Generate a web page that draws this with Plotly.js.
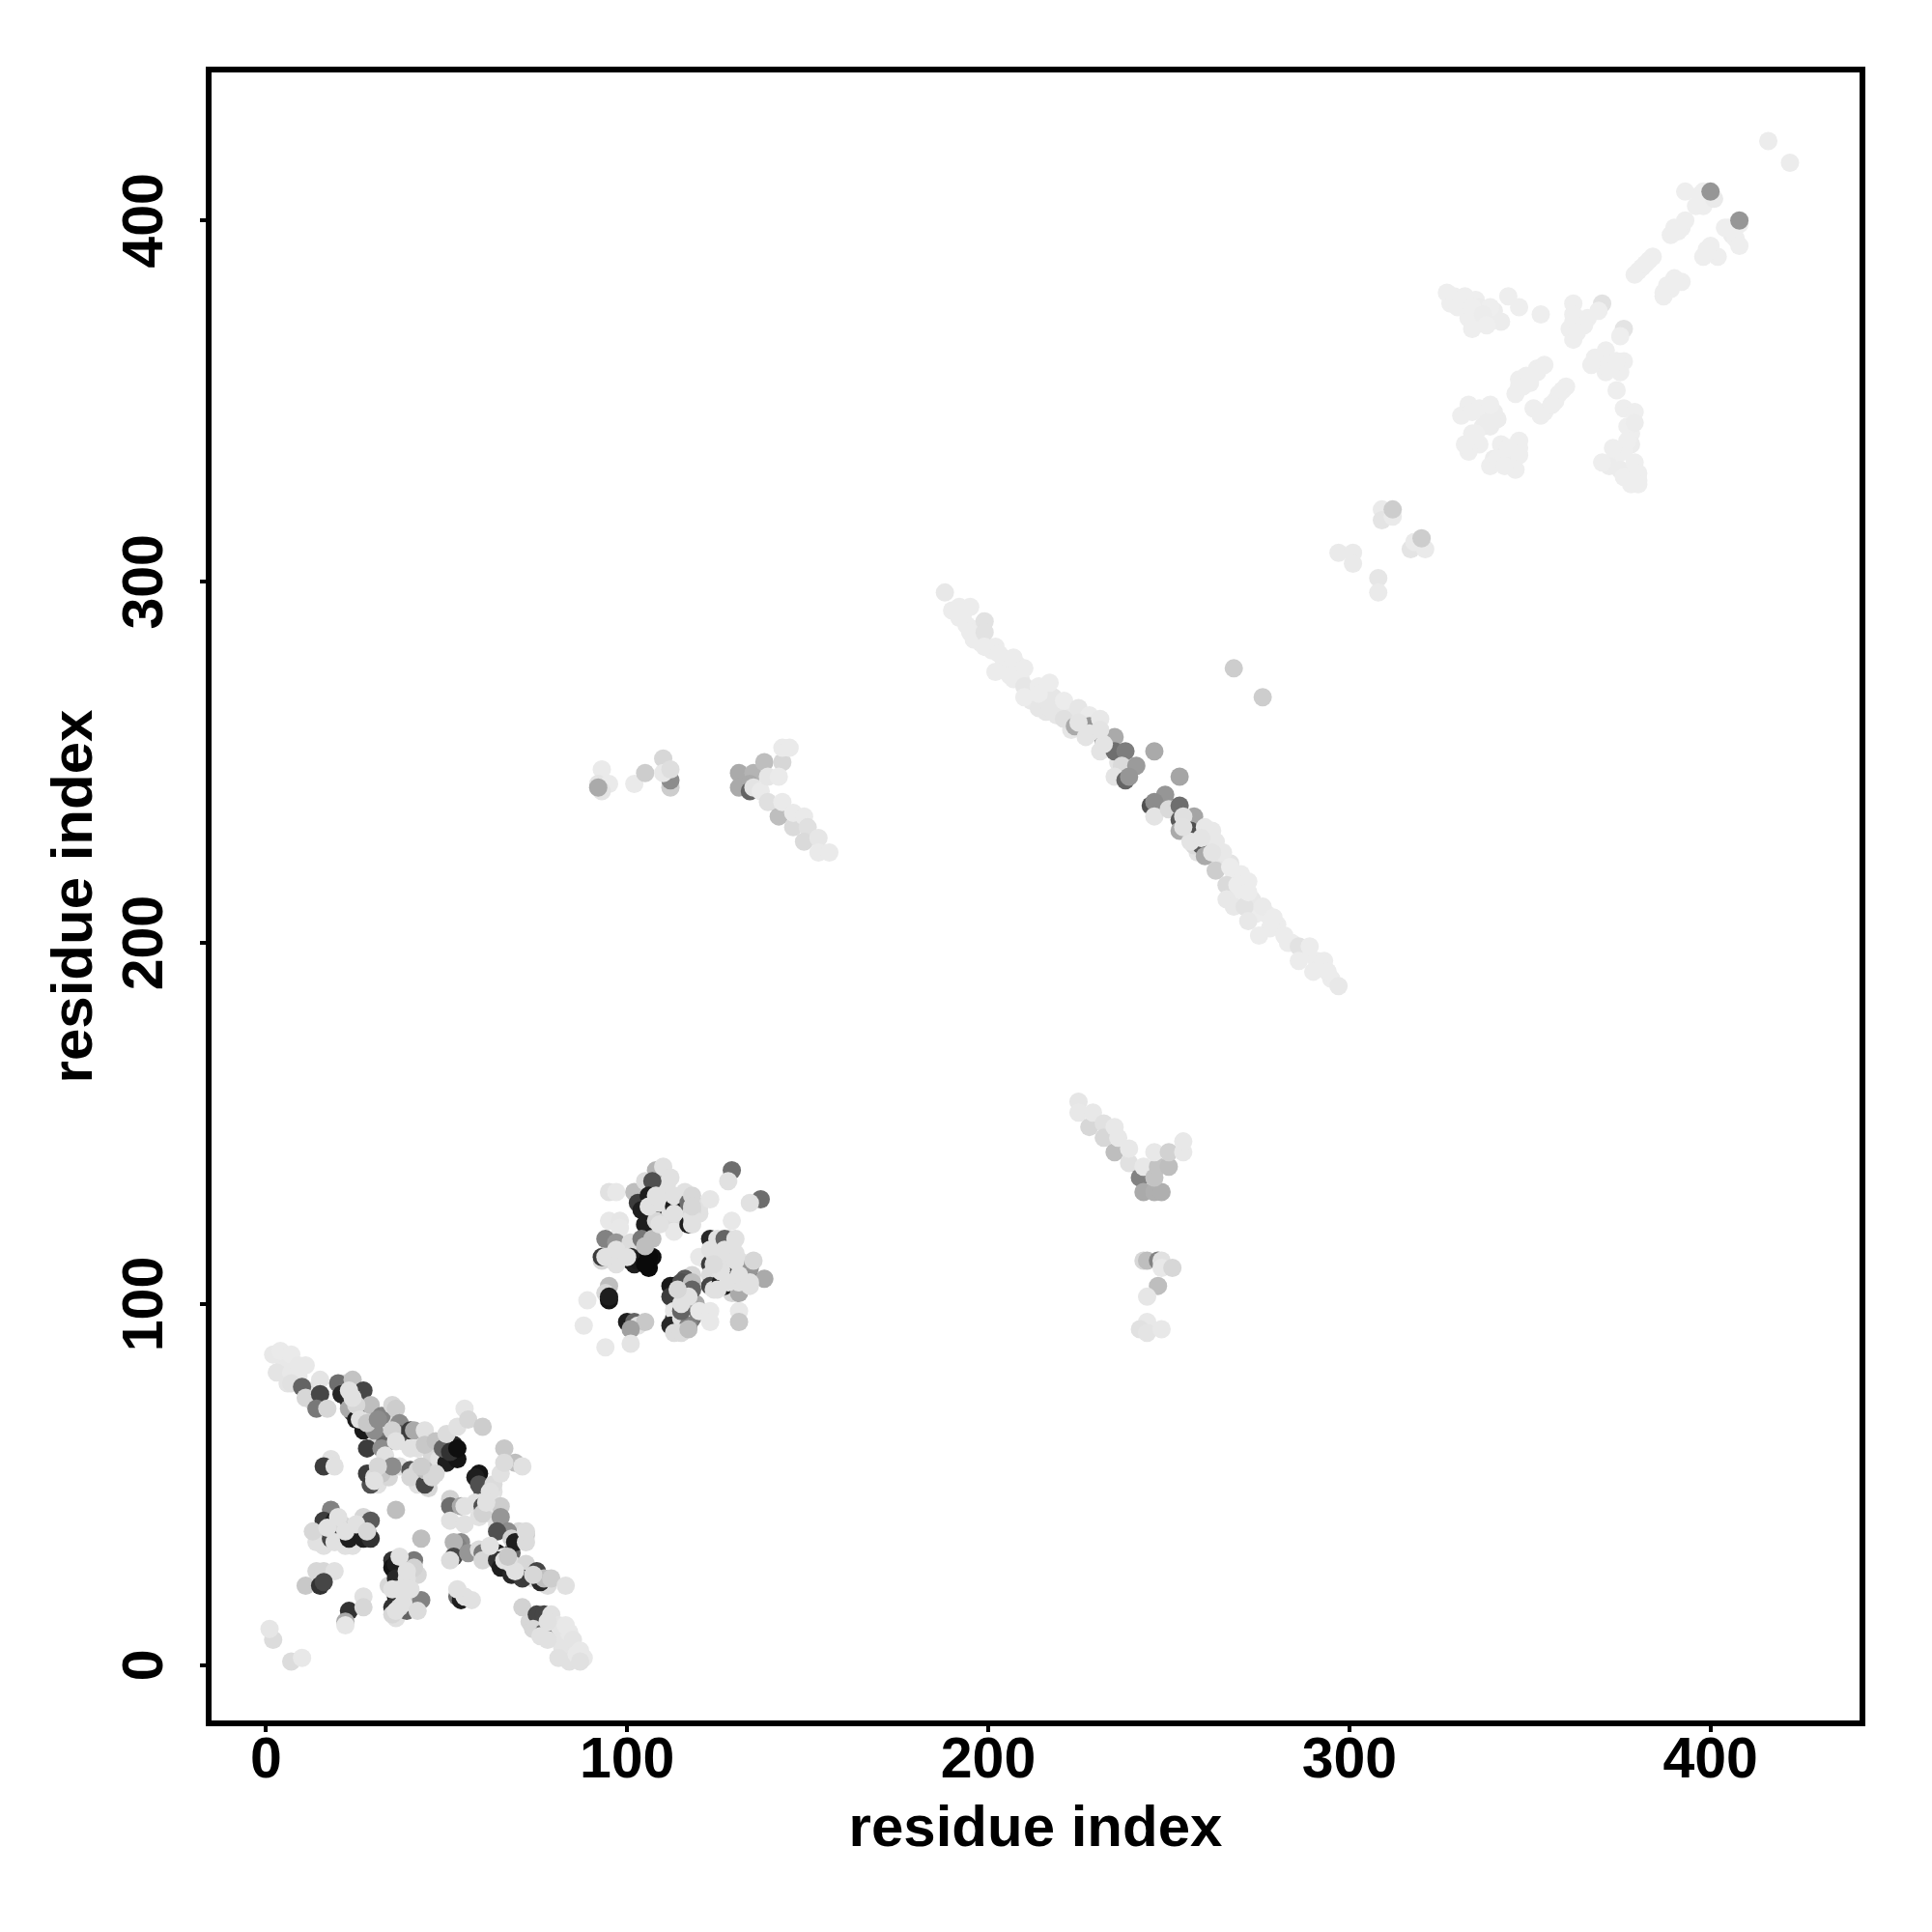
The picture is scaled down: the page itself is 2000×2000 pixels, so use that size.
<!DOCTYPE html>
<html>
<head>
<meta charset="utf-8">
<script src="https://cdn.plot.ly/plotly-3.0.1.min.js"></script>
<style>html,body{margin:0;padding:0;background:#fff}</style>
</head>
<body>
<div id="chart" style="width:2000px;height:2000px"></div>
<script>
// Each contact: x residue, y residue, grey level (0 black - 255 white). Paint order is list order.
const underX = [5,9,6,12,13, 22,24,26,27,29,31,33,34,33,38,42,46,48,52,50,53, 31,34,37,42,45,29,33, 60,61,63,58,59,64,62,70,68,64,66,69,72,74,78, 17,20,22,24,26,14,16,28, 36,38,36,39,34,37,38,42, 73,76,78,80,82,84,84,88];
const underY = [84,80,78,76,73, 78,70,70,73,68,62,62,68,61,62,60,58,57,61,56,57, 50,52,55,50,49,50,56, 48,46,48,45,41,39,42,37,31,31,30,26,25,24,22, 38,36,33,33,38,37,33,37, 25,21,13,15,22,28,26,25, 12,11,11,8,5,9,1,2];
const underG = [232,232,228,225,215, 215,60,30,215,220,215,120,215,100,225,225,215,225,40,30,20, 225,215,225,225,215,80,120, 80,225,225,225,225,225,225,215,100,30,225,30,40,225,220, 225,70,225,225,225,70,225,30, 60,215,225,100,215,30,225,215, 215,90,225,228,228,232,225,232];

const underBX = [104,107,110,109,112,111,115,116,115,120,120,106, 96,95,99,100,103,101,104,107,106, 113,115,115,118,113,116,119,118,116, 122,124,125,129,128,131,132,127,129,133,126];
const underBY = [130,125,130,125,125,133,124,131,127,125,127,127, 112,115,113,115,115,112,113,113,110, 100,100,93,96,96,100,100,108,107, 112,107,109,115,118,112,107,108,103,106,116];
const underBG = [30,225,225,30,225,225,225,225,215,225,225,40, 225,225,215,225,60,30,25,15,10, 225,60,215,120,60,225,170,215,90, 225,225,60,225,215,225,225,225,215,50,225];

const underCX = [190,193,194,197,196,198,201,204,205,208,206,209,211,212,215,216,218,219,222,223,226,229,233,236, 255,258,261,258,263,264,267,268,270,267,270,273,274,277,278,280,283,284,288,291,292,295];
const underCY = [292,291,288,287,284,283,281,279,276,277,274,273,270,267,268,264,268,263,263,259,261,259,255,250, 233,229,229,225,226,222,222,218,219,214,213,212,208,208,204,205,200,200,197,195,193,190];
const underCG = [236,236,236,236,236,236,236,236,236,236,236,232,236,232,230,230,230,230,232,230,200,228,228,228, 228,215,232,228,236,228,228,236,236,230,236,232,236,236,236,236,236,236,236,236,236,236];

const domainAX = [2,4,7,3,7,9,11,7,10,15,11,15,14,17, 21,20,24,27,21,23,23,29,25,27,30,32,35,36,37,37,35,40,41,44,40,44,47,49,51,53,50,53,55,56,60, 28,32,33,18,16,19,28,30,32,35,40,40,42,44,44,46];
const domainAY = [86,87,86,81,81,83,83,78,77,79,74,75,71,71, 75,78,79,76,75,73,71,72,68,65,65,69,72,71,67,64,65,65,65,65,60,61,62,60,59,60,64,66,71,68,66, 60,60,58,57,55,55,53,52,53,55,54,52,54,50,54,52];
const domainAG = [232,234,234,228,232,232,232,225,100,228,215,70,120,215, 40,110,195,70,40,40,170,190,30,25,140,130,215,205,140,90,210,60,170,225,225,200,195,100,50,15,220,225,230,215,205, 60,140,225,225,60,225,60,220,200,140,80,215,215,70,190,215];

const domainBX = [59,58,59,63,65,66,69,71,66, 51,51,54,51,55,55,60,60,63,65,65,67,64,68,72,69,72, 54,53,52,52,51,56,59,60,60,64,65,68,68,72,71,75,76,77,79,83, 74,71,75,77,79,74,77,78,81,83,81,85,86,87,87];
const domainBY = [53,52,50,50,53,60,56,55,56, 46,44,44,40,44,39,44,42,45,44,41,37,37,35,36,34,34, 34,33,34,30,29,31,32,31,29,29,27,25,28,28,24,26,23,24,24,22, 10,16,14,14,14,10,9,7,11,11,2,7,3,4,1];
const domainBG = [20,30,80,220,225,200,190,225,220, 210,110,170,225,225,225,80,210,230,205,150,140,80,210,205,30,220, 140,130,180,70,220,150,220,120,215,50,30,40,225,215,60,70,40,190,205,225, 215,210,70,70,225,215,90,225,228,232,225,228,232,232,225];

const domainCX = [18,36,43, 16,19,15,14,18,19,21,23,23,25,27,29,27,29, 14,16,19,11,15,16, 23,22,22,27,27, 35,35,36,41,41,36,39,36,35,35,38,37,35,37,40,43, 53,54,55,57, 2,1,7,10];
const domainCY = [43,43,35, 40,40,36,34,35,34,39,37,35,37,41,40,35,35, 26,26,26,22,22,23, 15,12,11,19,16, 29,27,28,29,27,24,24,19,16,14,17,21,21,16,18,18, 19,18,19,18, 7,10,1,2];
const domainCG = [130,190,190, 60,30,60,225,70,225,215,70,30,30,215,90,30,50, 215,215,225,200,50,70, 50,170,230,225,215, 50,20,30,120,210,40,225,30,50,215,30,225,225,215,200,130, 110,30,225,225, 220,230,220,232];

const insetX = [129,128,137,134,123,129,95,97, 102,103,104,108,105,107,110,106,109,105,108,113,113,113,113,117,118,118,117,118,112, 95,98,98,94,93,93,97,97,97,101,101,102,104,107,103,106,105];
const insetY = [137,134,129,128,129,123,131,131, 131,128,126,137,134,134,138,130,128,122,123,127,130,123,120,128,130,126,122,124,135, 123,123,121,118,112,113,117,113,111,117,113,111,118,118,112,113,111];
const insetG = [110,225,110,225,230,232,225,232, 190,60,30,180,220,80,225,30,225,30,215,30,225,220,232,110,215,215,30,225,225, 232,230,232,130,215,60,150,60,225,220,40,30,120,190,25,10,10];

const insetBX = [95,94,89,95,95, 88,100,102,103,105,101,101,94, 113,112,112,115,118,118,117,113,112,115,117,113,115,120,123,123,131,131];
const insetBY = [105,103,101,101,102, 94,95,95,94,95,93,89,88, 105,105,102,106,106,104,102,98,94,96,94,92,98,98,98,95,98,95];
const insetBG = [190,215,232,20,30, 232,30,100,225,200,160,228,232, 15,25,60,80,190,100,225,230,40,225,130,220,100,232,232,232,232,200];

const insetCX = [123,120,125,123,123,123,123,124,127,130,126,127,128,130,126,127,129,131,130,131,134,134,135,138,134,131];
const insetCY = [118,113,118,115,111,108,105,104,118,118,113,113,112,114,106,105,107,110,105,103,107,110,112,107,105,106];
const insetCG = [40,232,225,225,60,220,70,225,100,225,190,40,225,225,30,30,20,70,30,170,50,150,215,170,225,225];

const overX = [23,25,26,28,24,31,36, 13,20,17,25,28,22, 37,39,38,38,36,42,40, 62,66,69,74,72,67,78,76, 53, 62,61,47,31,30,43];
const overY = [76,72,68,67,74,68,62, 37,41,38,39,37,37, 30,26,20,17,15,15,21, 33,29,26,25,37,30,12,8, 21, 48,45,53,55,51,55];
const overG = [225,215,225,200,225,140,225, 215,225,225,225,215,225, 225,225,225,225,225,220,225, 225,225,225,215,220,200,225,225, 225, 225,225,215,215,225,205];

const overBX = [106,108,109,113,118,118,94,97,100,105,126,128,131,134,127,124,115,114,115,117,124,125,130];
const overBY = [127,130,122,125,122,127,113,115,113,116,109,106,108,106,115,114,100,104,92,93,111,104,112];
const overBG = [225,225,225,225,225,215,225,225,225,190,225,225,225,225,225,225,225,215,220,190,220,225,225];

const vShapeX = [225,225,228,229,232,232,235,235,236,239,239,242,243,243,246,248,246,247,246,250,250,254,254, 243,244,247,248,248,251,247,244,244,242,244,248];
const vShapeY = [156,153,149,153,150,146,149,142,146,139,143,135,138,131,131,131,135,138,142,138,142,142,145, 112,112,112,112,110,110,105,102,95,93,92,93];
const vShapeG = [230,232,215,232,225,215,232,190,232,225,232,130,232,170,175,175,195,195,232,190,210,232,232, 215,190,130,225,232,215,190,230,232,225,228,232];

const strandX = [188,192,195,192,199,195,199,199,202,203,207,202,210,207,210,214,217,210,214,214,217,221,221,224,225,227,228,228,231,231,232,235,231,235,238,246,237,241,235,238,239,253, 249,245,246,246,250,253,253,257,254,253,256,257,260,262,259,260,263,265,263,267,266,269,272,266,268,271,272,272,276,279,275,282,286,289,286,290,293,294,297,268,276];
const strandY = [297,293,293,290,289,286,286,282,282,280,279,275,276,273,271,271,272,268,265,269,265,267,262,260,265,257,263,260,258,262,256,257,253,253,253,253,249,249,246,245,246,246, 241,238,239,235,237,238,234,235,235,231,231,227,232,231,227,224,228,225,220,221,216,216,217,212,210,210,214,206,210,207,202,202,199,199,195,192,195,192,188,276,268];
const strandG = [232,236,236,236,226,236,226,236,236,236,236,236,236,236,230,236,236,236,230,236,230,236,224,170,230,228,234,150,90,232,100,170,228,110,125,170,218,155,228,100,150,165, 150,80,140,228,218,110,90,165,224,170,80,218,232,232,90,170,232,232,205,236,218,236,236,232,232,226,236,232,234,236,236,236,226,236,236,236,236,236,232,205,205];

const overCX = [232,228,231,225,256,259,262,254];
const overCY = [255,258,259,261,228,229,225,232];
const overCG = [228,228,228,228,228,228,228,225];

const armX = [93,92,95,93,92,102,105,110,112,112,110,112, 131,131,135,134,134,135,138,137,143,143,145,139,142,139,142,143,146,146,149,150,149,153,153,156];
const armY = [248,244,244,242,243,244,247,251,243,245,247,248, 247,243,247,244,242,243,250,242,250,254,254,246,246,239,235,239,232,236,235,232,228,229,225,225];
const armG = [234,228,234,228,170,234,205,215,205,140,232,222, 170,170,180,170,100,228,190,234,215,234,234,230,234,224,190,234,218,234,234,224,218,230,234,234];

const sheetFillX = [328,331,335,336,333,338,340,342,336,339,363,366,362,372,374,370,371,375, 377,378,378,376,374,372,375,377,378,380, 352,350,347,347, 359,357,354,351,356, 333,336,337,339,334,336,333,341, 345,342,343,340,345,344,347, 396,397,392,389,406,404,407,381,383,379,392,389,387,402,399];
const sheetFillY = [377,377,378,374,373,373,375,372,376,372,373,373,372,361,361,362,358,358, 343,341,338,336,335,332,331,329,327,328, 359,355,354,356, 353,350,347,348,349, 349,348,343,343,341,338,336,345, 337,338,335,334,333,336,337, 404,407,398,396,396,398,395,387,389,385,383,381,379,390,391];
const sheetFillG = [238,238,238,238,238,236,236,236,236,236,238,238,238,238,238,238,238,238, 238,238,236,238,238,236,236,238,238,238, 238,238,238,238, 238,238,238,238,236, 238,238,236,236,238,238,238,236, 238,238,236,236,238,236,238, 238,238,238,238,236,238,238,238,238,238,238,238,238,238,238];

const sheetX = [416,422,393,398,398,401,400, 405,408,408,408, 393,390,391, 400,398,399, 384,380,382, 390,387,388, 327,329,332,330,334,339,337,334,338,344,347,353, 362,362,370,369,361,365,362,363,376,375, 371,368,370,376,374,367, 374,376,379,379,377,373,370,379,376,380,380, 354,352,349,346,348, 360,358,356,353, 331,334,340,338,332,335,339, 347,344,339,341,347,346,343];
const sheetY = [422,416,408,408,404,406,408, 398,399,393,400, 400,398,397, 393,390,392, 390,386,388, 384,380,382, 380,379,379,376,376,376,374,370,371,379,376,374, 377,374,377,375,370,371,367,369,370,368, 364,362,360,361,361,360, 353,348,347,344,339,337,333,333,329,330,327, 360,358,357,352,354, 354,352,349,346, 346,347,347,344,338,341,349, 339,337,332,334,335,331,332];
const sheetG = [236,236,238,238,238,234,150, 238,238,238,150, 238,238,238, 238,238,238, 238,238,238, 238,238,238, 238,238,238,238,238,238,236,238,238,238,238,238, 238,238,226,238,238,238,238,238,228,238, 238,238,238,238,238,238, 238,238,238,236,238,238,238,238,238,238,238, 238,238,238,238,238, 238,238,238,238, 238,238,236,236,238,238,238, 238,238,238,238,238,238,238];

const tailX = [309,309,312,317,321,318,312,320,297,301,301,308,308];
const tailY = [320,317,318,309,309,311,320,312,308,308,305,301,297];
const tailG = [234,228,234,228,234,234,205,205,234,234,234,230,234];

const tickValues = [0,100,200,300,400];
const axisLabel = 'residue index';

const groups = [
  [underX,underY,underG],[underBX,underBY,underBG],[underCX,underCY,underCG],
  [domainAX,domainAY,domainAG],[domainBX,domainBY,domainBG],[domainCX,domainCY,domainCG],
  [insetX,insetY,insetG],[insetBX,insetBY,insetBG],[insetCX,insetCY,insetCG],
  [overX,overY,overG],[overBX,overBY,overBG],
  [vShapeX,vShapeY,vShapeG],[strandX,strandY,strandG],[overCX,overCY,overCG],[armX,armY,armG],
  [tailX,tailY,tailG],[sheetFillX,sheetFillY,sheetFillG],[sheetX,sheetY,sheetG]
];
const traces = groups.map(g => ({
  type:'scatter', mode:'markers', x:g[0], y:g[1], showlegend:false,
  marker:{size:19, line:{width:0}, color:g[2].map(v => `rgb(${v},${v},${v})`)}
}));

const family = '"Liberation Sans", Arial, sans-serif';
const axis = {
  tickmode:'array', tickvals:tickValues, ticktext:tickValues.map(String),
  showgrid:false, zeroline:false, showline:true, linecolor:'#000', linewidth:6, mirror:true,
  ticks:'outside', ticklen:6, tickwidth:4, tickcolor:'#000',
  tickfont:{family:family, size:59, color:'#000', weight:700}
};
const titleFont = {family:family, size:60, color:'#000', weight:700};
const layout = {
  width:2000, height:2000, paper_bgcolor:'#fff', plot_bgcolor:'#fff', showlegend:false,
  margin:{l:219,r:75,t:75,b:219,pad:0},
  xaxis:{...axis, range:[-15.06,441.27], ticklabelstandoff:-24, title:{text:axisLabel, font:titleFont, standoff:19}},
  yaxis:{...axis, range:[-15.33,441.0], tickangle:-90, ticklabelstandoff:15, ticklabelshift:9, title:{text:axisLabel, font:titleFont, standoff:2}}
};
Plotly.newPlot('chart', traces, layout, {displayModeBar:false, staticPlot:true});
</script>
</body>
</html>
